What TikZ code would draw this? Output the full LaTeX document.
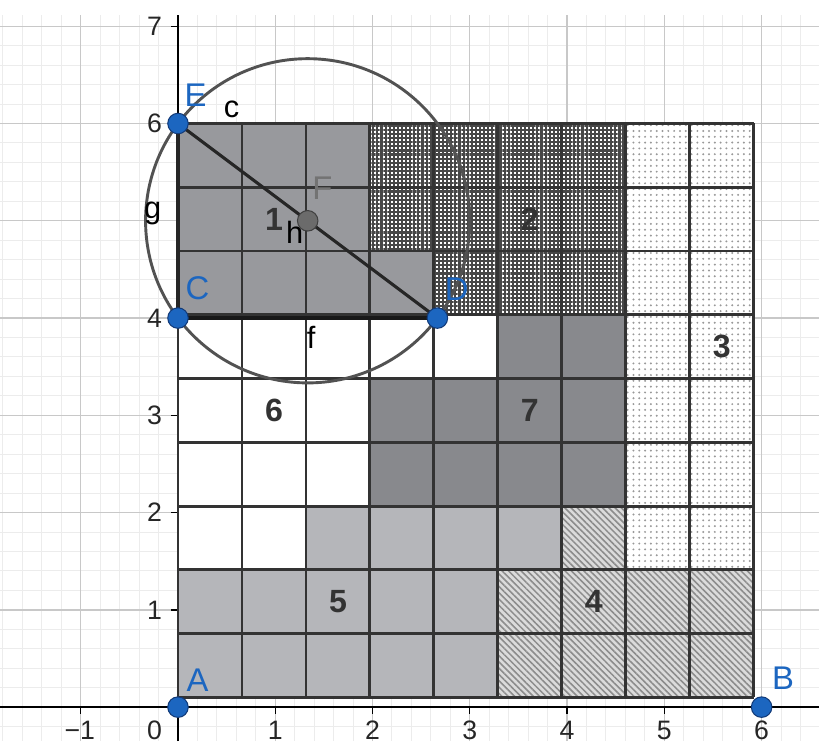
\documentclass[tikz,border=0pt]{standalone}
\usepackage{fontspec}
\setmainfont{Liberation Sans}
\usetikzlibrary{patterns.meta}

\definecolor{diemxanh}{RGB}{28,102,192}
\definecolor{vienxanh}{RGB}{18,58,120}
\definecolor{xammin}{RGB}{236,236,236}
\definecolor{xamluoi}{RGB}{200,200,200}
\definecolor{vung1}{RGB}{152,153,157}
\definecolor{vung5}{RGB}{181,182,186}
\definecolor{vung7}{RGB}{136,137,141}

\begin{document}
\begin{tikzpicture}[
    oke/.style={line width=0.85pt, black!80},
    doan/.style={line width=0.9pt, black!85},
    diem/.style={circle, fill=diemxanh, draw=vienxanh, line width=0.3pt, inner sep=0pt, minimum size=6pt},
    tendiem/.style={diemxanh, font=\fontsize{9.6}{11}\selectfont},
    so/.style={black!80, font=\fontsize{9.4}{11}\selectfont\bfseries},
    ten/.style={black, font=\fontsize{9}{10}\selectfont},
    truc/.style={black!85, font=\fontsize{7.8}{9}\selectfont}
]
    \useasboundingbox (-1.83,-0.35) rectangle (6.59,7.27);
    \fill[white] (-1.83,-0.35) rectangle (6.59,7.27);

    % Lưới nền
    \draw[xammin, line width=0.3pt, step=0.2] (-1.83,-0.35) grid (6.59,7.12);
    \draw[xamluoi, line width=0.4pt, step=1] (-1.83,-0.35) grid (6.59,7.12);

    % Trục tọa độ
    \draw[line width=0.45pt] (-1.83,0) -- (6.59,0);
    \draw[line width=0.45pt] (0,-0.35) -- (0,7.12);
    \foreach \x in {1,...,6} {
        \draw[line width=0.4pt] (\x,0) -- (\x,-0.07);
        \node[truc] (tx\x) at (\x,-0.24) {\x};
    }
    \draw[line width=0.4pt] (-1,0) -- (-1,-0.07);
    \node[truc] (txm1) at (-1.01,-0.24) {−1};
    \node[truc] (tx0) at (-0.24,-0.24) {0};
    \foreach \y in {1,2,3,4,6,7} {
        \draw[line width=0.4pt] (0,\y) -- (-0.07,\y);
        \node[truc] (ty\y) at (-0.24,\y) {\y};
    }

    % Hình vuông 9x9 ô
    \begin{scope}[shift={(0,0.1)}, x=0.6578cm, y=0.6556cm]
        % vùng 1
        \fill[vung1] (0,6) rectangle (3,9);
        \fill[vung1] (3,6) rectangle (4,7);
        % vùng 2
        \fill[white] (3,7) rectangle (7,9) (4,6) rectangle (7,7);
        \fill[pattern={Hatch[distance=1.2pt, line width=0.62pt]}, pattern color=black!72]
            (3,7) rectangle (7,9) (4,6) rectangle (7,7);
        % vùng 3
        \fill[white] (7,2) rectangle (9,9);
        \fill[pattern={Dots[distance=1.7pt, radius=0.32pt]}, pattern color=black!40]
            (7,2) rectangle (9,9);
        % vùng 4
        \fill[black!14] (5,0) rectangle (9,2) (6,2) rectangle (7,3);
        \fill[pattern={Lines[angle=-45, distance=1.3pt, line width=0.45pt]}, pattern color=black!45]
            (5,0) rectangle (9,2) (6,2) rectangle (7,3);
        % vùng 5
        \fill[vung5] (0,0) rectangle (5,2) (2,2) rectangle (6,3);
        % vùng 6
        \fill[white] (0,2) rectangle (2,3) (0,3) rectangle (3,5) (0,5) rectangle (5,6);
        % vùng 7
        \fill[vung7] (3,3) rectangle (7,5) (5,5) rectangle (7,6);

        % các đường kẻ ô
        \foreach \i in {0,...,9} {
            \draw[oke] (\i,0) -- (\i,9);
            \draw[oke] (0,\i) -- (9,\i);
        }

        % số của các vùng
        \node[so] (so1) at (1.5,7.5) {1};
        \node[so] (so2) at (5.5,7.5) {2};
        \node[so] (so3) at (8.5,5.5) {3};
        \node[so] (so4) at (6.5,1.5) {4};
        \node[so] (so5) at (2.5,1.5) {5};
        \node[so] (so6) at (1.5,4.5) {6};
        \node[so] (so7) at (5.5,4.5) {7};
    \end{scope}

    % Các điểm
    \coordinate (A) at (0,0);
    \coordinate (B) at (6,0);
    \coordinate (C) at (0,4);
    \coordinate (D) at (8/3,4);
    \coordinate (E) at (0,6);
    \coordinate (F) at (4/3,5);

    % Đường tròn c và các đoạn thẳng
    \draw[line width=0.85pt, black!68] (F) circle[radius=5/3];
    \draw[doan] (E) -- (C);
    \draw[doan] (E) -- (D);
    \draw[line width=1.2pt, black!90] (C) -- (D);

    \node[ten] (c) at (0.55,6.15) {c};
    \node[ten] (g) at (-0.26,5.08) {g};
    \node[ten] (f) at (1.37,3.8) {f};
    \node[ten] (h) at (1.2,4.88) {h};

    % Vẽ các chấm
    \foreach \p in {A, B, C, D, E} {
        \node[diem] (n\p) at (\p) {};
    }
    \node[diem, fill=black!58, draw=black!75] (nF) at (F) {};

    % Nhãn các điểm
    \node[tendiem] (lA) at ([shift={(0.2,0.28)}]A) {A};
    \node[tendiem] (lB) at ([shift={(0.22,0.3)}]B) {B};
    \node[tendiem] (lC) at ([shift={(0.2,0.31)}]C) {C};
    \node[tendiem] (lD) at ([shift={(0.2,0.3)}]D) {D};
    \node[tendiem] (lE) at ([shift={(0.18,0.29)}]E) {E};
    \node[tendiem, black!55] (lF) at ([shift={(0.15,0.33)}]F) {F};
\end{tikzpicture}
\end{document}
